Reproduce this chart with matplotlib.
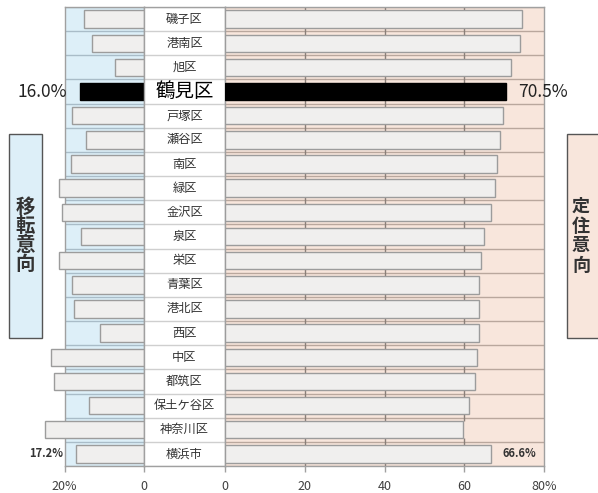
import matplotlib
matplotlib.use("Agg")
import matplotlib.pyplot as plt
import matplotlib.patches as mpatches
import numpy as np

plt.rcParams["font.family"] = ["Noto Sans CJK JP", "DejaVu Sans"]

# 区別の移転意向・定住意向（%）
wards = ["磯子区", "港南区", "旭区", "鶴見区", "戸塚区", "瀬谷区", "南区", "緑区",
         "金沢区", "泉区", "栄区", "青葉区", "港北区", "西区", "中区", "都筑区",
         "保土ケ谷区", "神奈川区", "横浜市"]
move_out = [15.1, 13.2, 7.3, 16.0, 18.2, 14.7, 18.4, 21.3, 20.7, 15.9,
            21.3, 18.2, 17.6, 11.1, 23.4, 22.7, 13.8, 24.9, 17.2]
stay = [74.4, 74.0, 71.7, 70.5, 69.8, 68.9, 68.1, 67.7, 66.6, 65.0,
        64.2, 63.8, 63.7, 63.7, 63.1, 62.6, 61.2, 59.7, 66.6]
highlight = "鶴見区"
total = "横浜市"

left_ticks = [20, 0]
left_ticklabels = ["20%", "0"]
right_ticks = [0, 20, 40, 60, 80]
right_ticklabels = ["0", "20", "40", "60", "80%"]

BAR_FACE = "#f0efee"
BAR_EDGE = "#9c9c9c"
BLUE = "#ddeff8"
PEACH = "#f8e6dc"
TXT = "#333333"

W, H = 598, 493
fig = plt.figure(figsize=(W / 100, H / 100), dpi=100)

y0 = 1 - 466 / H
h = (466 - 7) / H
axL = fig.add_axes([64.5 / W, y0, 79.5 / W, h])
axC = fig.add_axes([144 / W, y0, 81 / W, h])
axR = fig.add_axes([225 / W, y0, 319 / W, h])

n = len(wards)
y = np.arange(n)
bounds = np.arange(n + 1) - 0.5
colors = ["black" if w == highlight else BAR_FACE for w in wards]
edges = ["black" if w == highlight else BAR_EDGE for w in wards]

for ax in (axL, axC, axR):
    ax.set_ylim(n - 0.5, -0.5)
    ax.set_yticks([])
    for sp in ax.spines.values():
        sp.set_color("#a0a0a0")
        sp.set_linewidth(1)

# 左：移転意向
axL.set_facecolor(BLUE)
axL.set_xlim(20, 0)
axL.hlines(bounds, 20, 0, color="#a9bcc8", lw=1, zorder=1)
axL.barh(y, move_out, height=0.72, color=colors, edgecolor=edges, lw=1,
         clip_on=False, zorder=3)
axL.set_xticks(left_ticks)
axL.set_xticklabels(left_ticklabels)

# 中央：区名
axC.set_xlim(0, 1)
axC.hlines(bounds, 0, 1, color="#cfcfcf", lw=1)
axC.set_xticks([])
for yi, w in zip(y, wards):
    if w == highlight:
        axC.text(0.5, yi, w, ha="center", va="center", fontsize=14, color="black")
    else:
        axC.text(0.5, yi, w, ha="center", va="center", fontsize=8.8, color=TXT)

# 右：定住意向
axR.set_facecolor(PEACH)
axR.set_xlim(0, 80)
axR.hlines(bounds, 0, 80, color="#b9a79d", lw=1, zorder=1)
axR.vlines(np.repeat(right_ticks[1:4], len(bounds)),
           np.tile(bounds - 0.15, 3), np.tile(bounds + 0.15, 3),
           color="#8a7f79", lw=1, zorder=2)
axR.barh(y, stay, height=0.72, color=colors, edgecolor=edges, lw=1, zorder=3)
axR.set_xticks(right_ticks)
axR.set_xticklabels(right_ticklabels)

for ax in (axL, axR):
    ax.tick_params(axis="x", length=4, width=1, color="#a0a0a0", pad=6,
                   labelsize=9, labelcolor="#404040")

# 数値ラベル
for ax, vals in ((axL, move_out), (axR, stay)):
    for yi, w, v in zip(y, wards, vals):
        if w == highlight:
            kw = dict(fontsize=12.5, color="#222222")
        elif w == total:
            kw = dict(fontsize=8, fontweight="bold", color="#333333")
        else:
            continue
        off = (-13, 0) if ax is axL else (12, 0)
        ax.annotate(f"{v:.1f}%", (v, yi), xytext=off, textcoords="offset pixels",
                    ha="right" if ax is axL else "left", va="center", **kw)

# 両側の見出しボックス
fig.patches.append(mpatches.Rectangle((9 / W, 1 - 338 / H), 33 / W, 204 / H,
                                      transform=fig.transFigure, facecolor=BLUE,
                                      edgecolor="#555555", lw=1))
fig.patches.append(mpatches.Rectangle((567 / W, 1 - 338 / H), 40 / W, 204 / H,
                                      transform=fig.transFigure, facecolor=PEACH,
                                      edgecolor="#555555", lw=1))
fig.text(25.5 / W, 1 - 236 / H, "移\n転\n意\n向", ha="center", va="center",
         fontsize=14, fontweight="bold", color=TXT, linespacing=1.0)
fig.text(581 / W, 1 - 236 / H, "定\n住\n意\n向", ha="center", va="center",
         fontsize=13, fontweight="bold", color=TXT, linespacing=1.05)

fig.savefig("out.png", dpi=100)
